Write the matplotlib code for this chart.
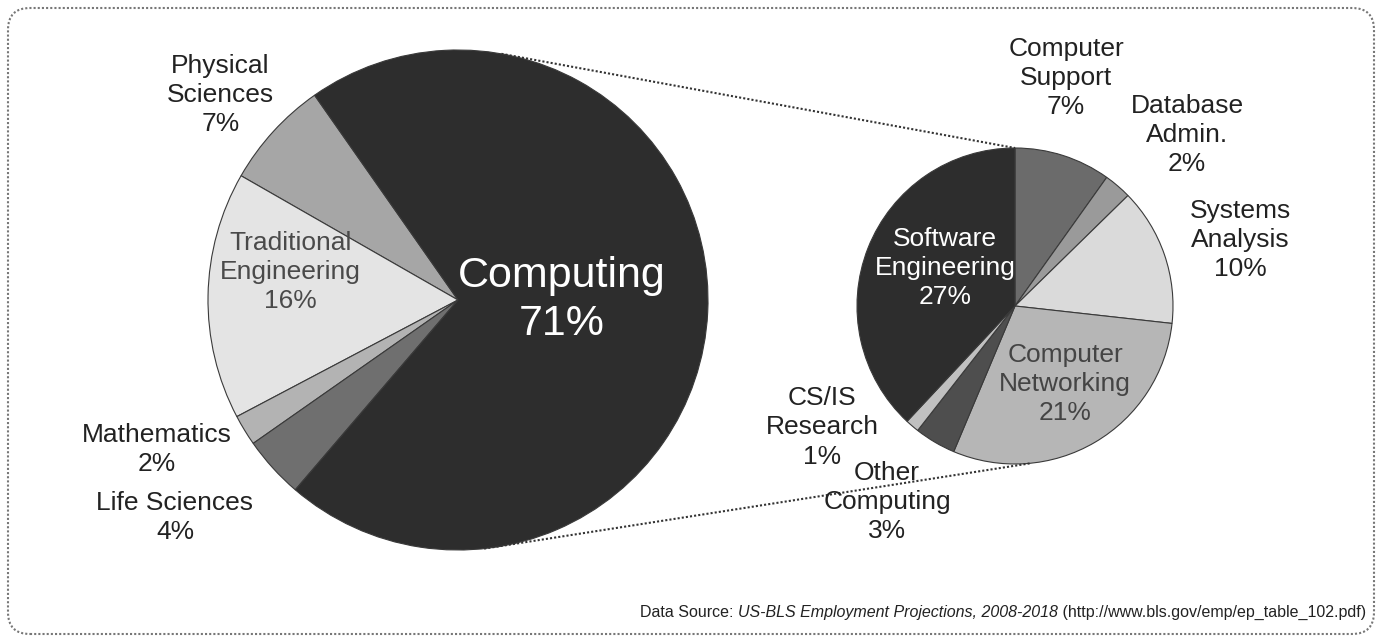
import numpy as np
import matplotlib.pyplot as plt
from matplotlib.patches import FancyBboxPatch

plt.rcParams['font.family'] = ['Liberation Sans', 'DejaVu Sans']

# big pie: all science & engineering fields
fields = ['Physical\nSciences', 'Traditional\nEngineering', 'Mathematics', 'Life Sciences', 'Computing']
field_pct = [7, 16, 2, 4, 71]
field_colors = ['#a6a6a6', '#e4e4e4', '#b3b3b3', '#6f6f6f', '#2d2d2d']

# small pie: breakdown of computing
comp = ['Computer\nSupport', 'Database\nAdmin.', 'Systems\nAnalysis', 'Computer\nNetworking',
        'Other\nComputing', 'CS/IS\nResearch', 'Software\nEngineering']
comp_pct = [7, 2, 10, 21, 3, 1, 27]
comp_colors = ['#6b6b6b', '#9a9a9a', '#dadada', '#b6b6b6', '#4e4e4e', '#c0c0c0', '#2d2d2d']

W, H = 1382, 642
fig = plt.figure(figsize=(W / 100, H / 100), dpi=100)
ax = fig.add_axes([0, 0, 1, 1])

c1, r1 = (458, 342), 250
c2, r2 = (1015, 336), 158

w1, _ = ax.pie(field_pct, colors=field_colors, startangle=125, center=c1, radius=r1,
               wedgeprops=dict(edgecolor='#3a3a3a', linewidth=0.8), frame=True)
w2, _ = ax.pie(comp_pct, colors=comp_colors, startangle=90, counterclock=False, center=c2, radius=r2,
               wedgeprops=dict(edgecolor='#3a3a3a', linewidth=0.8), frame=True)
ax.set_xlim(0, W)
ax.set_ylim(0, H)
ax.set_aspect('equal')
ax.axis('off')


def put_labels(wedges, names, pcts, center, radius, dist, turn, sizes, colors):
    for w, n, p, d, t, s, col in zip(wedges, names, pcts, dist, turn, sizes, colors):
        a = np.deg2rad((w.theta1 + w.theta2) / 2 + t)
        x = center[0] + d * radius * np.cos(a)
        y = center[1] + d * radius * np.sin(a)
        ax.text(x, y, f'{n}\n{p}%', ha='center', va='center', fontsize=s, color=col,
                linespacing=1.28)


put_labels(w1, fields, field_pct, c1, r1,
           dist=[1.255, 0.681, 1.347, 1.427, 0.416],
           turn=[1.6, -8.5, -5, -4.7, 2.8],
           sizes=[19, 19, 19, 19, 31],
           colors=['#222222', '#4a4a4a', '#222222', '#222222', 'white'])
put_labels(w2, comp, comp_pct, c2, r2,
           dist=[1.479, 1.535, 1.484, 0.586, 1.48, 1.442, 0.504],
           turn=[5.1, -4.6, -2.7, 2.3, -2.7, -17.3, -7],
           sizes=[19] * 7,
           colors=['#222222', '#222222', '#222222', '#444444', '#222222', '#222222', 'white'])

# dotted connectors between the pies
for a1, a2 in [(80, 90), (-84, -84)]:
    p1 = (c1[0] + r1 * np.cos(np.deg2rad(a1)), c1[1] + r1 * np.sin(np.deg2rad(a1)))
    p2 = (c2[0] + r2 * np.cos(np.deg2rad(a2)), c2[1] + r2 * np.sin(np.deg2rad(a2)))
    ax.plot([p1[0], p2[0]], [p1[1], p2[1]], ls=(0, (1, 1)), color='#333333', lw=1.5)

# rounded dotted frame
frame = FancyBboxPatch((8, 8), W - 16, H - 16, boxstyle='round,pad=0,rounding_size=22',
                       fill=False, ec='#777777', ls=(0, (1, 1)), lw=1.5)
ax.add_patch(frame)

# source line, built right to left so it ends inside the frame
t3 = ax.text(1366, 22, ' (http://www.bls.gov/emp/ep_table_102.pdf)', fontsize=11.5,
             color='#222222', ha='right', va='bottom')
t2 = ax.annotate('US-BLS Employment Projections, 2008-2018', xy=(0, 0), xycoords=t3,
                 fontsize=11.5, style='italic', color='#222222', ha='right', va='bottom')
ax.annotate('Data Source: ', xy=(0, 0), xycoords=t2,
            fontsize=11.5, color='#222222', ha='right', va='bottom')

fig.savefig('out.png', dpi=100)
